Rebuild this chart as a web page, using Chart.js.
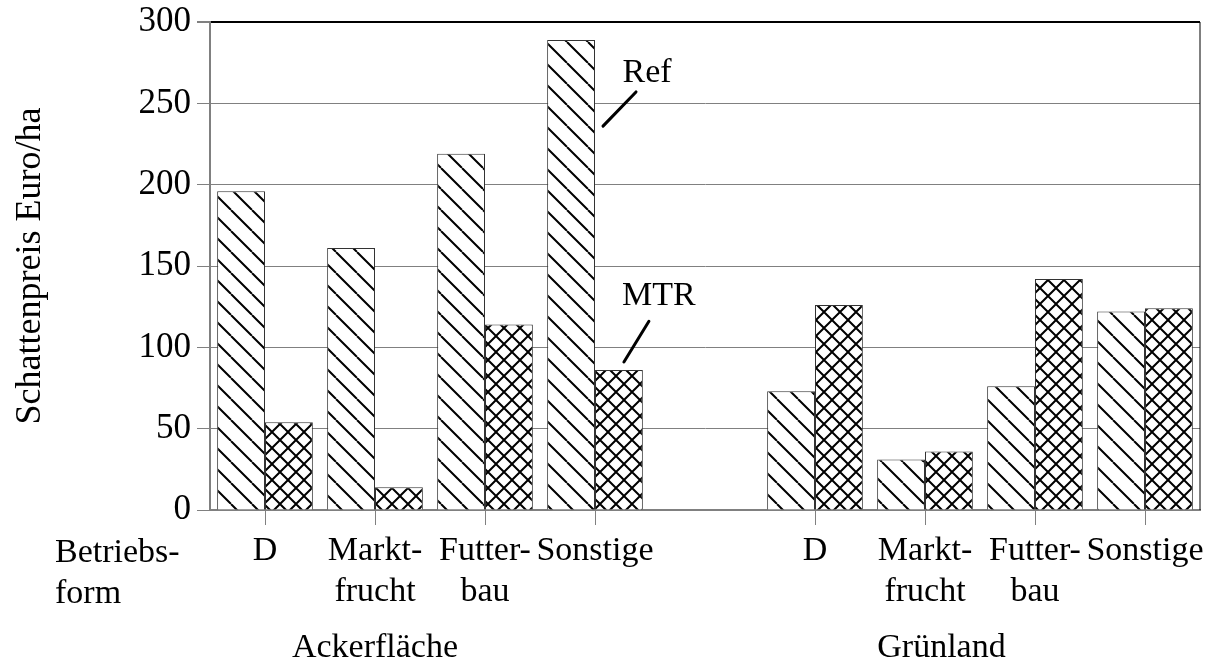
<!DOCTYPE html>
<html>
<head>
<meta charset="utf-8">
<script src="https://cdn.jsdelivr.net/npm/chart.js@4"></script>
<style>
  body { margin: 0; background: #fff; }
  #wrap { width: 1221px; height: 672px; }
</style>
</head>
<body>
<div id="wrap"><canvas id="shadowChart"></canvas></div>
<script>
// Schattenpreise Ref / MTR je Betriebsform
const categories = ['D', ['Markt-', 'frucht'], ['Futter-', 'bau'], 'Sonstige', '',
  'D', ['Markt-', 'frucht'], ['Futter-', 'bau'], 'Sonstige'];
const refValues = [196, 161, 219, 289, null, 73, 31, 76, 122];
const mtrValues = [54, 14, 114, 86, null, 126, 36, 142, 124];
const yMax = 300;
const yStep = 50;
const groupLabels = ['Ackerfläche', 'Grünland'];
const rowLabel = ['Betriebs-', 'form'];
const seriesNames = ['Ref', 'MTR'];

const FONT = 'Liberation Serif';

function hatch(size, both) {
  const c = document.createElement('canvas');
  c.width = size; c.height = size;
  const g = c.getContext('2d');
  g.fillStyle = '#fff';
  g.fillRect(0, 0, size, size);
  g.strokeStyle = '#000';
  g.lineWidth = 2;
  g.beginPath();
  for (let k = -1; k <= 1; k++) {
    g.moveTo(k * size, 0); g.lineTo(k * size + size, size);
    if (both) { g.moveTo(k * size + size, 0); g.lineTo(k * size, size); }
  }
  g.stroke();
  return g.createPattern(c, 'repeat');
}

const ctx = document.getElementById('shadowChart').getContext('2d');
const refPattern = hatch(21, false);
const mtrPattern = hatch(16, true);

// rahmen, beschriftungen, pfeile
const extras = {
  id: 'extras',
  afterDraw(chart) {
    const { ctx: g, chartArea: a, scales: { x, y } } = chart;
    g.save();
    g.strokeStyle = '#000';
    g.lineWidth = 1;
    g.beginPath();
    g.moveTo(a.right, a.top); g.lineTo(a.right, a.bottom);
    g.stroke();

    g.fillStyle = '#000';
    g.font = `34px "${FONT}"`;
    g.textBaseline = 'alphabetic';
    g.textAlign = 'left';
    g.fillText(rowLabel[0], 55, 562);
    g.fillText(rowLabel[1], 55, 603);

    g.textAlign = 'center';
    const p6 = x.getPixelForValue(6), p7 = x.getPixelForValue(7);
    g.fillText(groupLabels[0], x.getPixelForValue(1), 657);
    g.fillText(groupLabels[1], p6 + 0.15 * (p7 - p6), 657);

    // Ref / MTR Zeiger am Balken "Sonstige"
    const refBar = chart.getDatasetMeta(0).data[3];
    const mtrBar = chart.getDatasetMeta(1).data[3];
    const rx = refBar.x + refBar.width / 2;
    g.lineWidth = 3;
    g.lineCap = 'round';
    g.beginPath();
    g.moveTo(rx + 8, y.getPixelForValue(236));
    g.lineTo(rx + 41, y.getPixelForValue(257));
    g.moveTo(mtrBar.x + 5, y.getPixelForValue(91));
    g.lineTo(mtrBar.x + 30, y.getPixelForValue(116));
    g.stroke();
    g.fillText(seriesNames[0], rx + 52, y.getPixelForValue(263));
    g.fillText(seriesNames[1], mtrBar.x + 40, y.getPixelForValue(126));
    g.restore();
  }
};

new Chart(ctx, {
  type: 'bar',
  data: {
    labels: categories,
    datasets: [
      { label: seriesNames[0], data: refValues, backgroundColor: refPattern,
        borderColor: '#333', borderWidth: 1 },
      { label: seriesNames[1], data: mtrValues, backgroundColor: mtrPattern,
        borderColor: '#333', borderWidth: 1 },
    ],
  },
  options: {
    responsive: true,
    maintainAspectRatio: false,
    animation: false,
    categoryPercentage: 0.87,
    barPercentage: 1,
    layout: { padding: { left: 0, right: 21, top: 22, bottom: 0 } },
    plugins: { legend: { display: false }, tooltip: { enabled: false } },
    scales: {
      x: {
        grid: {
          offset: false,
          drawOnChartArea: false,
          tickLength: 15,
          tickColor: (c) => (categories[c.index] === '' ? 'rgba(0,0,0,0)' : '#808080'),
        },
        border: { color: '#808080', width: 2 },
        ticks: { color: '#000', font: { family: FONT, size: 34 }, maxRotation: 0,
          autoSkip: false, padding: 6 },
        afterFit: (s) => { s.height = 162; s.paddingLeft = 0; s.paddingRight = 0; },
      },
      y: {
        min: 0,
        max: yMax,
        ticks: { stepSize: yStep, color: '#000', font: { family: FONT, size: 35 }, padding: 6 },
        grid: {
          tickLength: 13,
          color: (c) => (c.tick && c.tick.value === yMax ? '#000' : '#808080'),
          lineWidth: (c) => (c.tick && c.tick.value === yMax ? 2 : 1),
          tickColor: '#808080',
        },
        border: { color: '#808080', width: 2 },
        title: { display: true, text: 'Schattenpreis Euro/ha', color: '#000',
          font: { family: FONT, size: 36 }, padding: { top: 9, bottom: 0 } },
        afterFit: (s) => { s.width = 210; s.paddingTop = 0; s.paddingBottom = 0; },
      },
    },
  },
  plugins: [extras],
});
</script>
</body>
</html>
